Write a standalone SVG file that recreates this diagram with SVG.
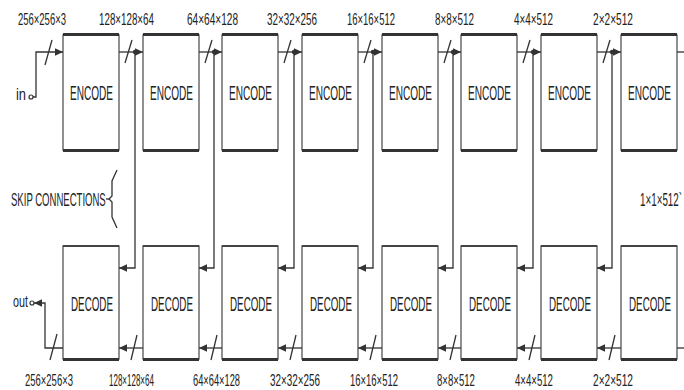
<svg xmlns="http://www.w3.org/2000/svg" width="684" height="390" viewBox="0 0 684 390">
<defs>
<style>
.box{fill:#fff;stroke:#555;stroke-width:1.3}
.edge{stroke:#333;stroke-width:3}
.edge2{stroke:#444;stroke-width:1.8}
.ln{fill:none;stroke:#333;stroke-width:1.3}
.sl{stroke:#333;stroke-width:1.3}
.bl{font-family:"Liberation Sans",Arial,sans-serif;font-size:20px;fill:#222}
.lb{font-family:"Liberation Sans",Arial,sans-serif;font-size:17px;fill:#222}
.tx{font-family:"Liberation Sans",Arial,sans-serif;font-size:19px;fill:#222}
</style>
<marker id="ah" viewBox="0 0 8 8" refX="8" refY="4" markerWidth="8" markerHeight="8" markerUnits="userSpaceOnUse" orient="auto">
<path d="M0,0.3 L8,4 L0,7.7 Z" fill="#333"/>
</marker>
</defs>

<g id="encoders">
<g id="enc1"><rect class="box" x="63" y="35" width="56" height="115"/><line class="edge" x1="63" y1="34.5" x2="119" y2="34.5"/><line class="edge" x1="63" y1="150.5" x2="119" y2="150.5"/><text class="bl" transform="translate(70,100) scale(0.503,1)">ENCODE</text></g>
<g id="enc2"><rect class="box" x="143" y="35" width="56" height="115"/><line class="edge" x1="143" y1="34.5" x2="199" y2="34.5"/><line class="edge" x1="143" y1="150.5" x2="199" y2="150.5"/><text class="bl" transform="translate(150,100) scale(0.503,1)">ENCODE</text></g>
<g id="enc3"><rect class="box" x="222" y="35" width="56" height="115"/><line class="edge" x1="222" y1="34.5" x2="278" y2="34.5"/><line class="edge" x1="222" y1="150.5" x2="278" y2="150.5"/><text class="bl" transform="translate(229,100) scale(0.503,1)">ENCODE</text></g>
<g id="enc4"><rect class="box" x="302" y="35" width="56" height="115"/><line class="edge" x1="302" y1="34.5" x2="358" y2="34.5"/><line class="edge" x1="302" y1="150.5" x2="358" y2="150.5"/><text class="bl" transform="translate(309,100) scale(0.503,1)">ENCODE</text></g>
<g id="enc5"><rect class="box" x="382" y="35" width="56" height="115"/><line class="edge" x1="382" y1="34.5" x2="438" y2="34.5"/><line class="edge" x1="382" y1="150.5" x2="438" y2="150.5"/><text class="bl" transform="translate(389,100) scale(0.503,1)">ENCODE</text></g>
<g id="enc6"><rect class="box" x="461" y="35" width="56" height="115"/><line class="edge" x1="461" y1="34.5" x2="517" y2="34.5"/><line class="edge" x1="461" y1="150.5" x2="517" y2="150.5"/><text class="bl" transform="translate(468,100) scale(0.503,1)">ENCODE</text></g>
<g id="enc7"><rect class="box" x="541" y="35" width="56" height="115"/><line class="edge" x1="541" y1="34.5" x2="597" y2="34.5"/><line class="edge" x1="541" y1="150.5" x2="597" y2="150.5"/><text class="bl" transform="translate(548,100) scale(0.503,1)">ENCODE</text></g>
<g id="enc8"><rect class="box" x="621" y="35" width="56" height="115"/><line class="edge" x1="621" y1="34.5" x2="677" y2="34.5"/><line class="edge" x1="621" y1="150.5" x2="677" y2="150.5"/><text class="bl" transform="translate(628,100) scale(0.503,1)">ENCODE</text></g>
</g>

<g id="decoders">
<g id="dec1"><rect class="box" x="63" y="246" width="56" height="113"/><line class="edge2" x1="63" y1="246" x2="119" y2="246"/><line class="edge" x1="63" y1="359.5" x2="119" y2="359.5"/><text class="bl" transform="translate(71,311) scale(0.491,1)">DECODE</text></g>
<g id="dec2"><rect class="box" x="143" y="246" width="56" height="113"/><line class="edge2" x1="143" y1="246" x2="199" y2="246"/><line class="edge" x1="143" y1="359.5" x2="199" y2="359.5"/><text class="bl" transform="translate(151,311) scale(0.491,1)">DECODE</text></g>
<g id="dec3"><rect class="box" x="222" y="246" width="56" height="113"/><line class="edge2" x1="222" y1="246" x2="278" y2="246"/><line class="edge" x1="222" y1="359.5" x2="278" y2="359.5"/><text class="bl" transform="translate(230,311) scale(0.491,1)">DECODE</text></g>
<g id="dec4"><rect class="box" x="302" y="246" width="56" height="113"/><line class="edge2" x1="302" y1="246" x2="358" y2="246"/><line class="edge" x1="302" y1="359.5" x2="358" y2="359.5"/><text class="bl" transform="translate(310,311) scale(0.491,1)">DECODE</text></g>
<g id="dec5"><rect class="box" x="382" y="246" width="56" height="113"/><line class="edge2" x1="382" y1="246" x2="438" y2="246"/><line class="edge" x1="382" y1="359.5" x2="438" y2="359.5"/><text class="bl" transform="translate(390,311) scale(0.491,1)">DECODE</text></g>
<g id="dec6"><rect class="box" x="461" y="246" width="56" height="113"/><line class="edge2" x1="461" y1="246" x2="517" y2="246"/><line class="edge" x1="461" y1="359.5" x2="517" y2="359.5"/><text class="bl" transform="translate(469,311) scale(0.491,1)">DECODE</text></g>
<g id="dec7"><rect class="box" x="541" y="246" width="56" height="113"/><line class="edge2" x1="541" y1="246" x2="597" y2="246"/><line class="edge" x1="541" y1="359.5" x2="597" y2="359.5"/><text class="bl" transform="translate(549,311) scale(0.491,1)">DECODE</text></g>
<g id="dec8"><rect class="box" x="621" y="246" width="56" height="113"/><line class="edge2" x1="621" y1="246" x2="677" y2="246"/><line class="edge" x1="621" y1="359.5" x2="677" y2="359.5"/><text class="bl" transform="translate(629,311) scale(0.491,1)">DECODE</text></g>
</g>

<g id="connectors">
<circle cx="31" cy="97" r="2" fill="#fff" stroke="#333" stroke-width="1.2"/>
<path class="ln" d="M33,97 H36 V52 H63" marker-end="url(#ah)"/>
<line class="sl" x1="45" y1="65" x2="52" y2="40"/>
<circle cx="32" cy="303" r="2" fill="#fff" stroke="#333" stroke-width="1.2"/>
<path class="ln" d="M63,348 H45 V303 H34" marker-end="url(#ah)"/>
<line class="sl" x1="50" y1="360" x2="57" y2="334"/>

<line class="ln" x1="119" y1="52" x2="143" y2="52" marker-end="url(#ah)"/>
<line class="ln" x1="199" y1="52" x2="222" y2="52" marker-end="url(#ah)"/>
<line class="ln" x1="278" y1="52" x2="302" y2="52" marker-end="url(#ah)"/>
<line class="ln" x1="358" y1="52" x2="382" y2="52" marker-end="url(#ah)"/>
<line class="ln" x1="438" y1="52" x2="461" y2="52" marker-end="url(#ah)"/>
<line class="ln" x1="517" y1="52" x2="541" y2="52" marker-end="url(#ah)"/>
<line class="ln" x1="597" y1="52" x2="621" y2="52" marker-end="url(#ah)"/>
<line class="ln" x1="677" y1="52" x2="684" y2="52"/>
<line class="sl" x1="125" y1="63" x2="132" y2="40"/>
<line class="sl" x1="205" y1="63" x2="212" y2="40"/>
<line class="sl" x1="284" y1="63" x2="291" y2="40"/>
<line class="sl" x1="364" y1="63" x2="371" y2="40"/>
<line class="sl" x1="444" y1="63" x2="451" y2="40"/>
<line class="sl" x1="523" y1="63" x2="530" y2="40"/>
<line class="sl" x1="603" y1="63" x2="610" y2="40"/>

<g fill="#333">
<circle cx="135" cy="52" r="2.2"/><circle cx="214" cy="52" r="2.2"/><circle cx="294" cy="52" r="2.2"/><circle cx="373" cy="52" r="2.2"/><circle cx="453" cy="52" r="2.2"/><circle cx="533" cy="52" r="2.2"/><circle cx="612" cy="52" r="2.2"/>
</g>
<path class="ln" d="M135,52 V268 H119" marker-end="url(#ah)"/>
<path class="ln" d="M214,52 V268 H199" marker-end="url(#ah)"/>
<path class="ln" d="M294,52 V268 H278" marker-end="url(#ah)"/>
<path class="ln" d="M373,52 V268 H358" marker-end="url(#ah)"/>
<path class="ln" d="M453,52 V268 H438" marker-end="url(#ah)"/>
<path class="ln" d="M533,52 V268 H517" marker-end="url(#ah)"/>
<path class="ln" d="M612,52 V268 H597" marker-end="url(#ah)"/>

<line class="ln" x1="143" y1="348" x2="119" y2="348" marker-end="url(#ah)"/>
<line class="ln" x1="222" y1="348" x2="199" y2="348" marker-end="url(#ah)"/>
<line class="ln" x1="302" y1="348" x2="278" y2="348" marker-end="url(#ah)"/>
<line class="ln" x1="382" y1="348" x2="358" y2="348" marker-end="url(#ah)"/>
<line class="ln" x1="461" y1="348" x2="438" y2="348" marker-end="url(#ah)"/>
<line class="ln" x1="541" y1="348" x2="517" y2="348" marker-end="url(#ah)"/>
<line class="ln" x1="621" y1="348" x2="597" y2="348" marker-end="url(#ah)"/>
<line class="ln" x1="677" y1="348" x2="684" y2="348"/>
<line class="sl" x1="131" y1="360" x2="137" y2="335"/>
<line class="sl" x1="211" y1="360" x2="217" y2="335"/>
<line class="sl" x1="290" y1="360" x2="296" y2="335"/>
<line class="sl" x1="370" y1="360" x2="376" y2="335"/>
<line class="sl" x1="450" y1="360" x2="456" y2="335"/>
<line class="sl" x1="529" y1="360" x2="535" y2="335"/>
<line class="sl" x1="609" y1="360" x2="615" y2="335"/>

<path class="ln" d="M117,170 L112,181 L112,196 L109,199 L112,202 L112,217 L117,228"/>
<line class="sl" x1="106" y1="199" x2="109" y2="199"/>
</g>

<g id="labels">
<text class="lb" transform="translate(18,25) scale(0.558,1)">256×256×3</text>
<text class="lb" transform="translate(99,25) scale(0.576,1)">128×128×64</text>
<text class="lb" transform="translate(187,25) scale(0.593,1)">64×64×128</text>
<text class="lb" transform="translate(267,25) scale(0.581,1)">32×32×256</text>
<text class="lb" transform="translate(347,25) scale(0.558,1)">16×16×512</text>
<text class="lb" transform="translate(435,25) scale(0.581,1)">8×8×512</text>
<text class="lb" transform="translate(514,25) scale(0.581,1)">4×4×512</text>
<text class="lb" transform="translate(593,25) scale(0.596,1)">2×2×512</text>

<text class="lb" transform="translate(25,386) scale(0.558,1)">256×256×3</text>
<text class="lb" transform="translate(109,386) scale(0.471,1)">128×128×64</text>
<text class="lb" transform="translate(193,386) scale(0.547,1)">64×64×128</text>
<text class="lb" transform="translate(270,386) scale(0.581,1)">32×32×256</text>
<text class="lb" transform="translate(350,386) scale(0.558,1)">16×16×512</text>
<text class="lb" transform="translate(437,386) scale(0.566,1)">8×8×512</text>
<text class="lb" transform="translate(515,386) scale(0.566,1)">4×4×512</text>
<text class="lb" transform="translate(593,386) scale(0.596,1)">2×2×512</text>

<text class="lb" transform="translate(16,100) scale(0.76,1)">in</text>
<text class="lb" transform="translate(13,307) scale(0.635,1)">out</text>
<text class="tx" transform="translate(11,206) scale(0.503,1)">SKIP CONNECTIONS</text>
<text class="tx" transform="translate(640,206) scale(0.517,1)">1×1×512`</text>
</g>
</svg>
